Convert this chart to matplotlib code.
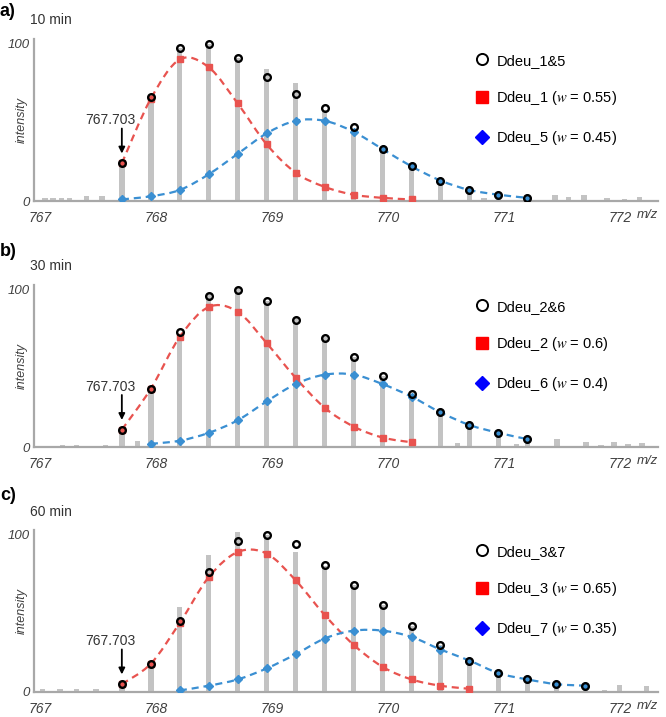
import matplotlib
matplotlib.use("Agg")
import matplotlib.pyplot as plt
from matplotlib.path import Path
from matplotlib.patches import PathPatch
from matplotlib.lines import Line2D

plt.rcParams['font.family'] = ['Liberation Sans', 'DejaVu Sans']
plt.rcParams['mathtext.fontset'] = 'stix'

# isotope peaks (z = 4), m/z
isotope_mz = [767.703, 767.953, 768.203, 768.453, 768.703, 768.953, 769.203,
              769.453, 769.703, 769.953, 770.203, 770.453, 770.703, 770.953,
              771.203, 771.453, 771.703]

# a) 10 min
a_bars = [26, 67, 97, 100, 91, 84, 75, 58, 46, 33, 22, 13, 8, 5, 2]
a_total = [24, 66, 97, 100, 91, 79, 68, 59, 47, 33, 22, 13, 7, 4, 2]
a_red = [24, 65, 90, 85, 62, 36, 18, 9, 4, 2, 1]
a_blue = [1, 3, 7, 17, 30, 43, 51, 51, 44, 33, 22, 13, 7, 4, 2]
a_noise_mz = [767.04, 767.11, 767.18, 767.25, 767.40, 767.53,
              770.83, 771.44, 771.56, 771.69, 771.89, 772.04, 772.17]
a_noise_h = [2, 2, 2, 2, 3, 3, 2, 3.5, 2.5, 3.5, 2, 1.5, 2.5]

# b) 30 min
b_bars = [12, 38, 72, 97, 101, 93, 82, 70, 57, 45, 34, 22, 14, 9, 5]
b_total = [11, 37, 73, 96, 100, 93, 81, 69, 57, 45, 34, 22, 14, 9, 5]
b_red = [11, 37, 70, 89, 86, 66, 44, 25, 13, 6, 3]
b_blue = [2, 4, 9, 17, 29, 40, 46, 46, 40, 32, 22, 14, 9, 5]
b_noise_mz = [767.19, 767.31, 767.56, 767.84,
              770.60, 771.11, 771.46, 771.71, 771.84, 771.95, 772.07, 772.19]
b_noise_h = [1.5, 1.5, 1.5, 3.5, 2.5, 2, 5, 3, 1.5, 3, 2, 2.5]

# c) 60 min
c_bars = [5, 18, 54, 87, 102, 100, 89, 80, 68, 55, 42, 30, 20, 12, 8, 5, 4]
c_total = [5, 18, 45, 76, 96, 100, 94, 81, 68, 55, 42, 30, 20, 12, 8, 5, 4]
c_red = [5, 18, 44, 73, 89, 88, 71, 49, 30, 16, 8, 4, 2]
c_blue = [1, 4, 8, 15, 24, 34, 39, 39, 35, 27, 20, 12, 8, 5, 4]
c_noise_mz = [767.02, 767.17, 767.31, 767.48, 771.87, 772.00, 772.23]
c_noise_h = [2, 2, 2, 2, 1.5, 4.5, 3.5]

panel_letters = ['a)', 'b)', 'c)']
panel_times = ['10 min', '30 min', '60 min']
legend_total = ['Ddeu_1&5', 'Ddeu_2&6', 'Ddeu_3&7']
legend_red = ['Ddeu_1 ($w$ = 0.55)', 'Ddeu_2 ($w$ = 0.6)', 'Ddeu_3 ($w$ = 0.65)']
legend_blue = ['Ddeu_5 ($w$ = 0.45)', 'Ddeu_6 ($w$ = 0.4)', 'Ddeu_7 ($w$ = 0.35)']

panels = [
    (a_bars, a_total, a_red, a_blue, 0, a_noise_mz, a_noise_h),
    (b_bars, b_total, b_red, b_blue, 1, b_noise_mz, b_noise_h),
    (c_bars, c_total, c_red, c_blue, 2, c_noise_mz, c_noise_h),
]

RED = '#e8534f'
BLUE = '#3a8fd2'
GREY = '#c3c3c3'
AX = '#a8a8a8'


def smooth_line(ax, xs, ys, color):
    # catmull-rom through the points, drawn as a bezier path
    pts = list(zip(xs, ys))
    verts = [pts[0]]
    codes = [Path.MOVETO]
    for i in range(len(pts) - 1):
        p0 = pts[i - 1] if i > 0 else pts[i]
        p1 = pts[i]
        p2 = pts[i + 1]
        p3 = pts[i + 2] if i + 2 < len(pts) else pts[i + 1]
        c1 = (p1[0] + (p2[0] - p0[0]) / 6, p1[1] + (p2[1] - p0[1]) / 6)
        c2 = (p2[0] - (p3[0] - p1[0]) / 6, p2[1] - (p3[1] - p1[1]) / 6)
        verts += [c1, c2, p2]
        codes += [Path.CURVE4] * 3
    patch = PathPatch(Path(verts, codes), facecolor='none', edgecolor=color,
                      lw=1.6, linestyle=(0, (3.2, 2.2)), zorder=3)
    ax.add_patch(patch)


fig = plt.figure(figsize=(6.66, 7.17), dpi=100)
bottoms = [516 / 717, 270 / 717, 25 / 717]
label_y = [(12, 20), (251, 266), (495, 512)]

for k, (bars, total, red, blue, blue_start, nmz, nh) in enumerate(panels):
    ax = fig.add_axes([34 / 666, bottoms[k], 624 / 666, 162 / 717])
    n = len(total)
    mz = isotope_mz[:n]
    ax.bar(nmz, nh, width=0.047, color=GREY, zorder=1)
    ax.bar(mz, bars, width=0.047, color=GREY, zorder=1)

    red_mz = isotope_mz[:len(red)]
    blue_mz = isotope_mz[blue_start:blue_start + len(blue)]
    smooth_line(ax, red_mz, red, RED)
    smooth_line(ax, blue_mz, blue, BLUE)
    ax.plot(red_mz, red, 's', color=RED, ms=5, zorder=4)
    ax.plot(blue_mz, blue, 'D', color=BLUE, ms=4.5, zorder=4)
    ax.plot(mz, total, 'o', mfc='none', mec='black', mew=1.7, ms=4.8, zorder=5)

    ax.annotate('', xy=(isotope_mz[0], total[0]), xytext=(0, 25),
                textcoords='offset points',
                arrowprops=dict(arrowstyle='-|>', color='black', lw=1.3,
                                shrinkA=0, shrinkB=7, mutation_scale=9))
    ax.annotate('767.703', xy=(isotope_mz[0], total[0]), xytext=(-8, 31),
                textcoords='offset points', ha='center', va='center',
                fontsize=10, color='#333333')

    ax.set_xlim(766.945, 772.33)
    ax.set_ylim(0, 103)
    ax.set_xticks([767, 768, 769, 770, 771, 772])
    ax.set_yticks([0, 100])
    ax.tick_params(length=0, colors='#404040', labelsize=10)
    ax.tick_params(axis='x', pad=7)
    ax.tick_params(axis='y', pad=3, labelsize=9.5)
    for lab in ax.get_xticklabels() + ax.get_yticklabels():
        lab.set_style('italic')
    for s in ['top', 'right']:
        ax.spines[s].set_visible(False)
    for s in ['left', 'bottom']:
        ax.spines[s].set_color(AX)
        ax.spines[s].set_linewidth(1.6)
    ax.set_facecolor('none')

    ax.text(-0.019, 0.5, 'intensity', transform=ax.transAxes, rotation=90,
            ha='center', va='center', fontsize=9, style='italic', color='#404040')
    ax.text(0.9995, -0.086, 'm/z', transform=ax.transAxes, ha='right', va='center',
            fontsize=9.5, style='italic', color='#404040', clip_on=False)

    handles = [
        Line2D([], [], marker='o', ls='none', mfc='none', mec='black', mew=1.4, ms=8),
        Line2D([], [], marker='s', ls='none', color='#ff0000', ms=8),
        Line2D([], [], marker='D', ls='none', color='#0000ff', ms=7),
    ]
    ax.legend(handles, [legend_total[k], legend_red[k], legend_blue[k]],
              loc='upper left', bbox_to_anchor=(0.707, 0.91), frameon=False,
              handlelength=1.0, handletextpad=0.45, labelspacing=1.5,
              borderpad=0, borderaxespad=0, fontsize=10.5)

    fig.text(0.0, 1 - label_y[k][0] / 717, panel_letters[k], fontsize=13,
             weight='bold', va='center', ha='left')
    fig.text(30 / 666, 1 - label_y[k][1] / 717, panel_times[k], fontsize=10,
             va='center', ha='left', color='#333333')

fig.savefig('out.png', dpi=100)
